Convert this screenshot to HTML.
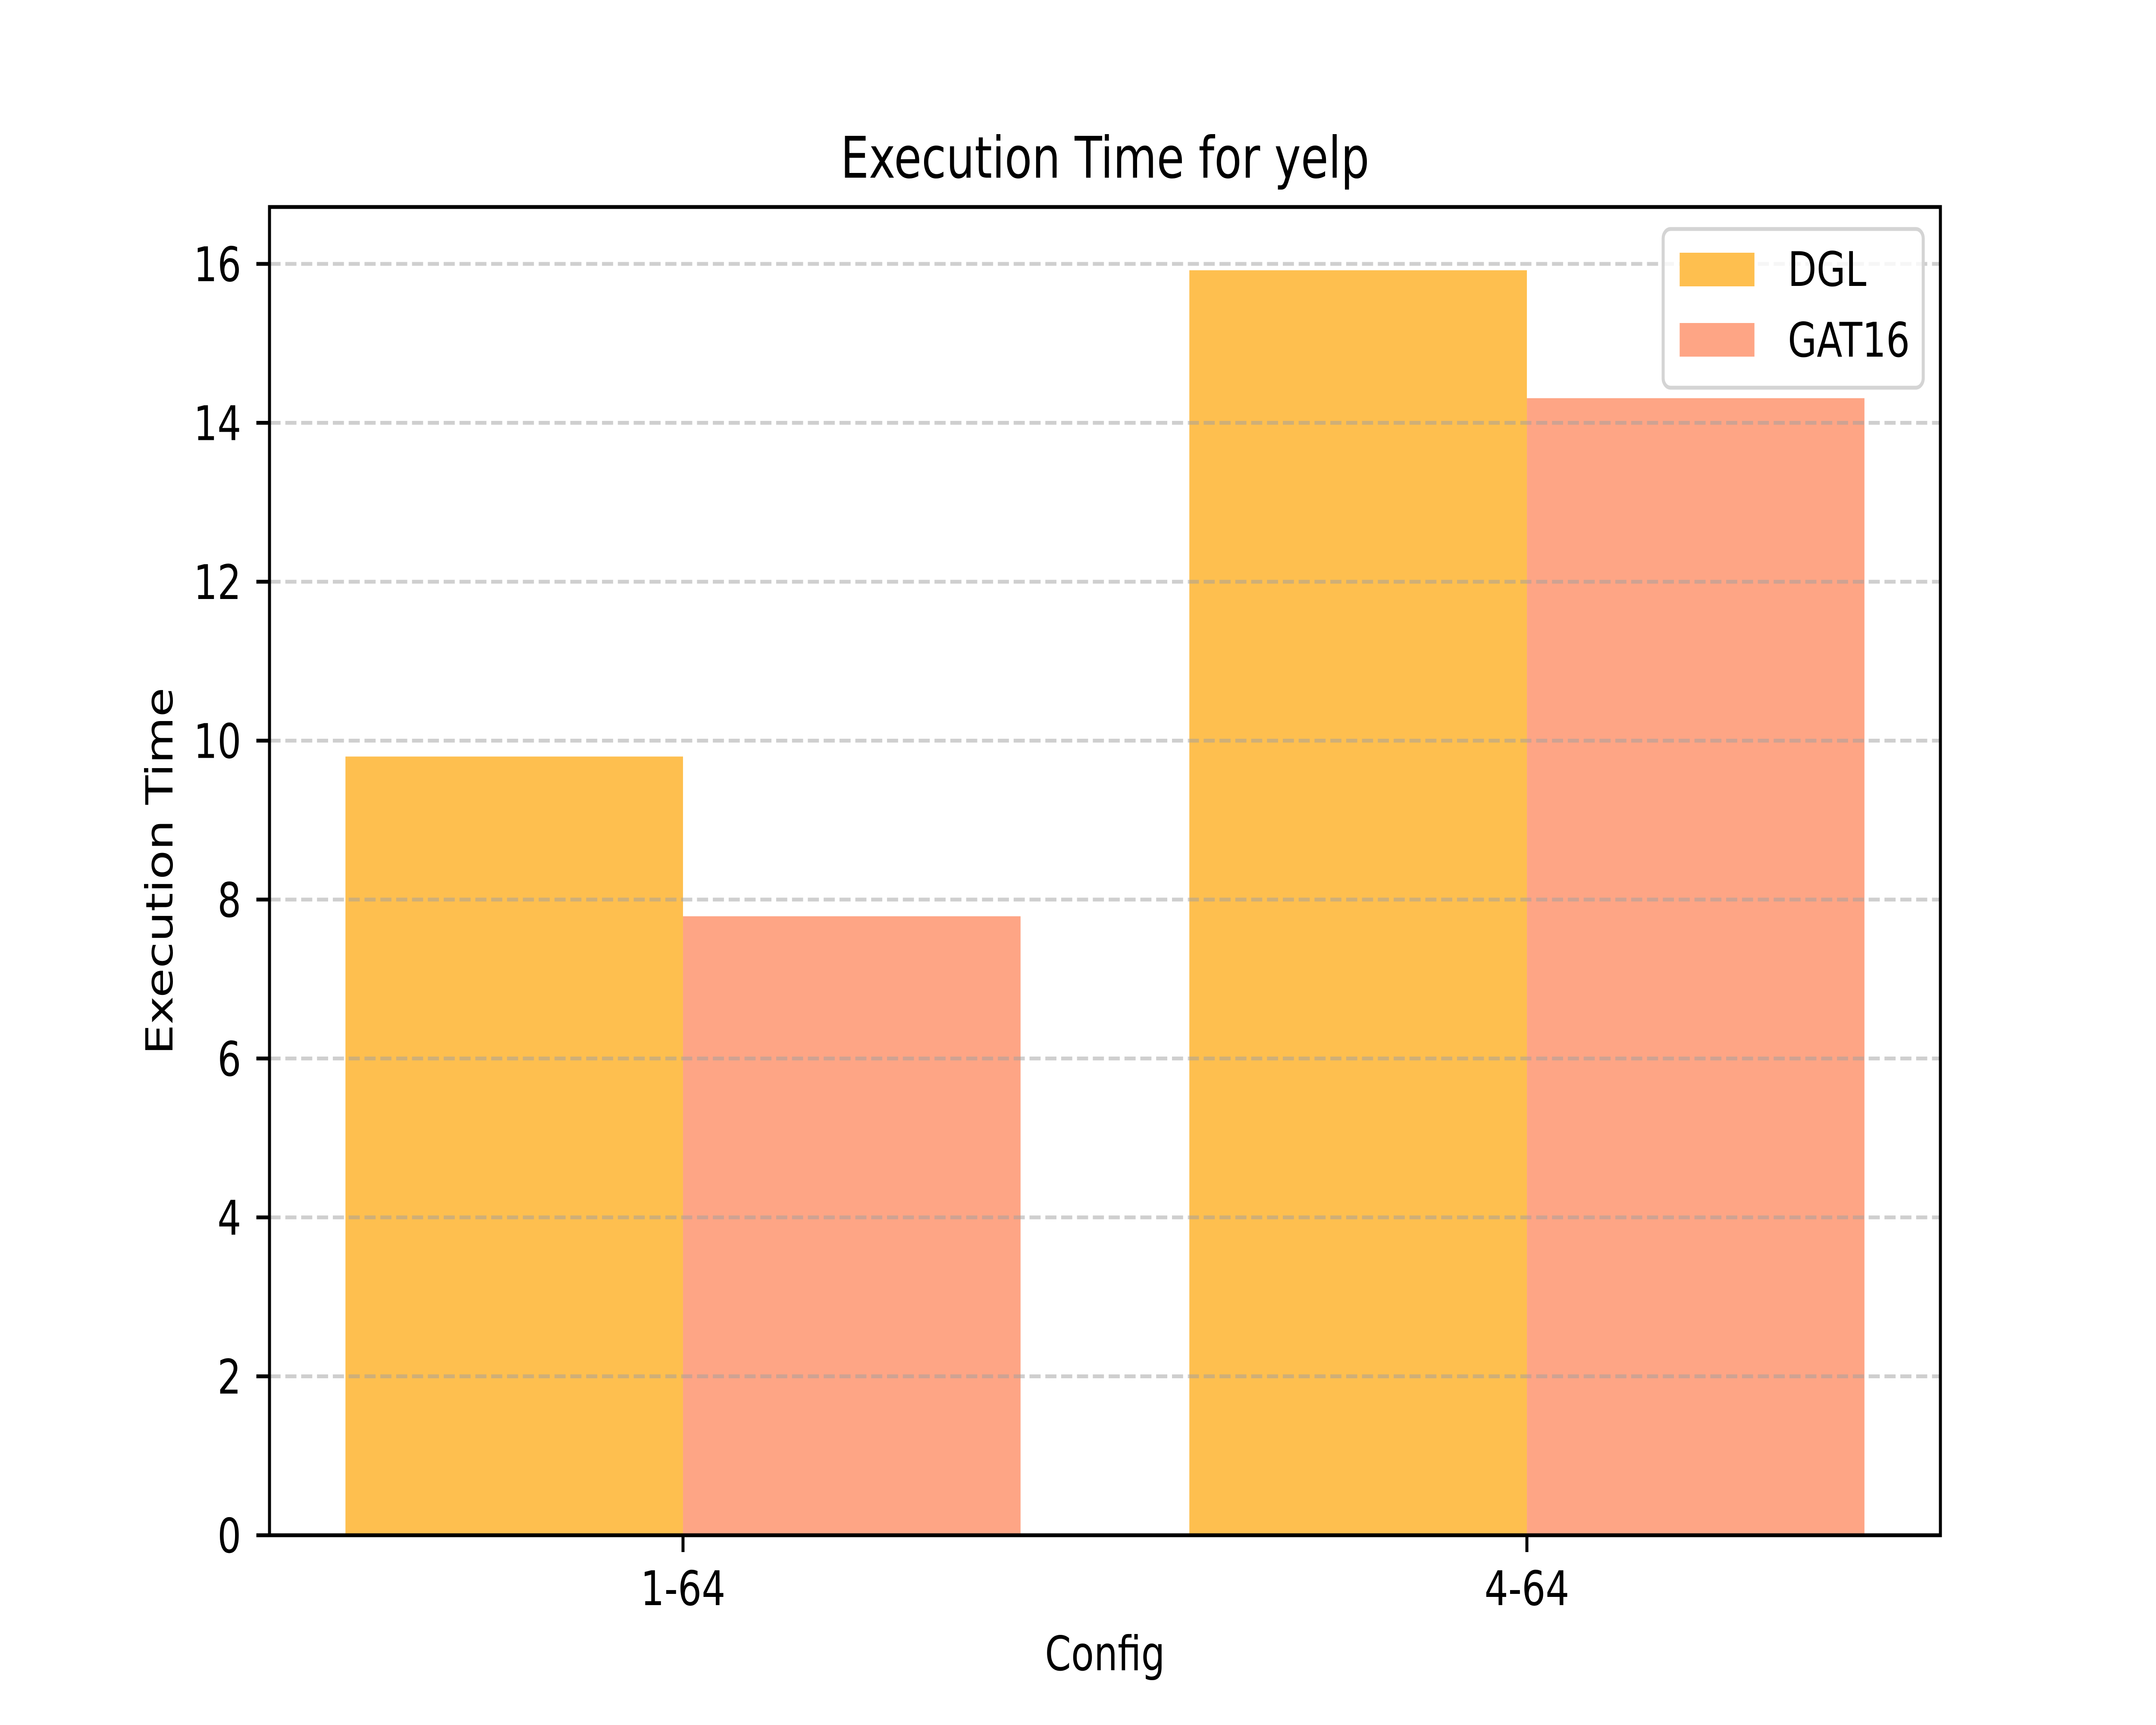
<!DOCTYPE html>
<html><head><meta charset="utf-8"><style>
html,body{margin:0;padding:0;background:#fff;width:100%;height:100%;overflow:hidden;}
svg{display:block;width:100vw;height:100vh;font-family:"DejaVu Sans","Liberation Sans",sans-serif;}
</style></head><body>
<svg id="chart" viewBox="0 0 6400 4000" preserveAspectRatio="none" xmlns="http://www.w3.org/2000/svg">
<rect width="6400" height="4000" fill="#fff"/>
<g id="bars"></g>
<g id="grid"></g>
<g id="yticks"></g>
<g id="xticks"></g>
<rect x="800" y="480" width="4960" height="3080" fill="none" stroke="#000" stroke-width="8.9"/>
<text x="3280" y="412" font-size="133" text-anchor="middle">Execution Time for yelp</text>
<text x="3280" y="3873" font-size="111" text-anchor="middle">Config</text>
<text transform="translate(512,2020) rotate(-90)" font-size="111" text-anchor="middle">Execution Time</text>
<g>
<rect x="4937" y="531" width="772" height="368" rx="22" fill="#fff" fill-opacity="0.8" stroke="#d4d4d4" stroke-width="9"/>
<rect x="4986" y="586" width="222" height="78" fill="#FEBF4F"/>
<text x="5307" y="663" font-size="111">DGL</text>
<rect x="4986" y="749" width="222" height="78" fill="#FEA585"/>
<text x="5307" y="827" font-size="111">GAT16</text>
</g>
</svg>
<script>
const categories = ["1-64", "4-64"];
const dglValues = [9.80, 15.92];
const gatValues = [7.79, 14.31];
const yTicks = [0, 2, 4, 6, 8, 10, 12, 14, 16];
const NS = "http://www.w3.org/2000/svg";
const AX = {left: 800, right: 5760, top: 480, bottom: 3560};
const barW = 0.4;
const yMax = Math.max(...dglValues, ...gatValues) * 1.05;
const xMin = -barW - (1 + 2 * barW) * 0.05, xMax = (categories.length - 1) + barW + (1 + 2 * barW) * 0.05;
function xs(v){ return AX.left + (v - xMin) / (xMax - xMin) * (AX.right - AX.left); }
function ys(v){ return AX.bottom - v / yMax * (AX.bottom - AX.top); }
function mk(tag, attrs, parent){ const e = document.createElementNS(NS, tag); for (const k in attrs) e.setAttribute(k, attrs[k]); parent.appendChild(e); return e; }
const bars = document.getElementById('bars');
categories.forEach((c, i) => {
  const b1 = mk('rect', {x: xs(i - barW), y: ys(dglValues[i]), width: xs(i) - xs(i - barW), height: ys(0) - ys(dglValues[i]), fill: '#FEBF4F'}, bars);
  
  
  const b2 = mk('rect', {x: xs(i), y: ys(gatValues[i]), width: xs(i + barW) - xs(i), height: ys(0) - ys(gatValues[i]), fill: '#FEA585'}, bars);
  
  
});
const grid = document.getElementById('grid');
const yt = document.getElementById('yticks');
yTicks.forEach(t => {
  const y = ys(t);
  const g = mk('line', {x1: AX.left, x2: AX.right, y1: y, y2: y, stroke: '#a0a0a0', 'stroke-opacity': 0.5, 'stroke-width': 8.9, 'stroke-dasharray': '33 14'}, grid);
  
  
  const tk = mk('line', {x1: AX.left - 39, x2: AX.left, y1: y, y2: y, stroke: '#000', 'stroke-width': 8.9}, yt);
  
  
  const tx = mk('text', {x: AX.left - 39 - 45, y: y + 40, 'font-size': 111, 'text-anchor': 'end'}, yt);
  tx.textContent = String(t);
  
  
});
const xt = document.getElementById('xticks');
categories.forEach((c, i) => {
  const x = xs(i);
  const tk = mk('line', {x1: x, x2: x, y1: AX.bottom, y2: AX.bottom + 39, stroke: '#000', 'stroke-width': 8.9}, xt);
  
  
  const tx = mk('text', {x: x, y: 3722, 'font-size': 111, 'text-anchor': 'middle'}, xt);
  tx.textContent = c;
  
  
});
</script>
</body></html>
